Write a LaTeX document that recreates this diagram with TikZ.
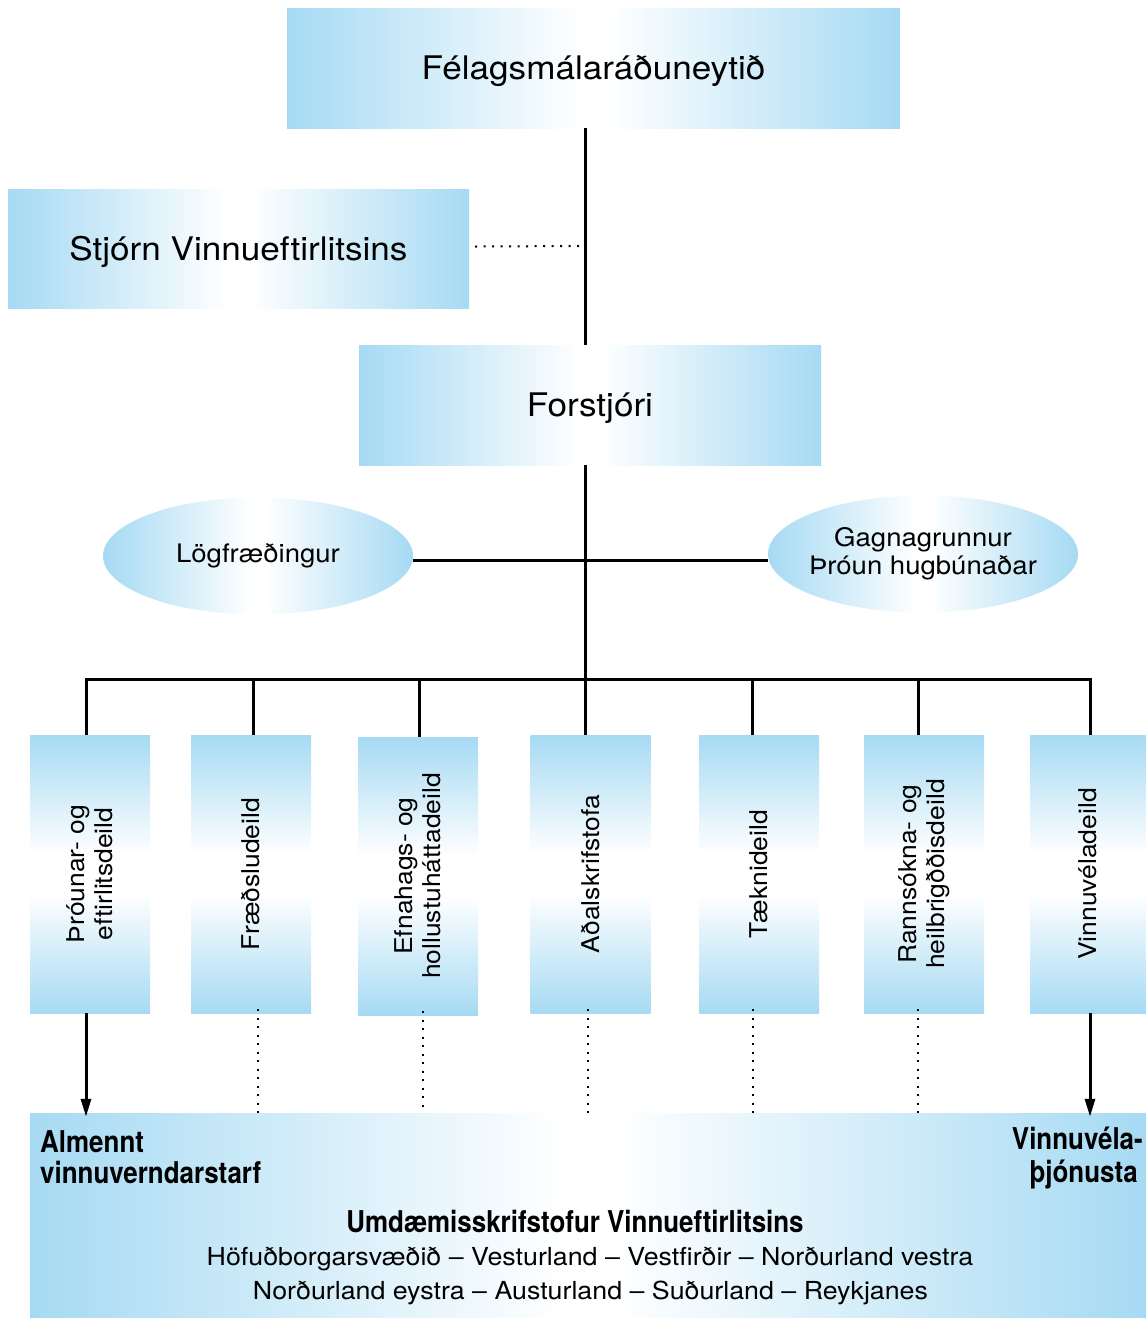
\documentclass[tikz,border=0pt]{standalone}
\usepackage{fontspec}
\setmainfont{TeX Gyre Heros}[FakeStretch=1.08]
\newfontfamily\condb[FakeStretch=0.865]{TeX Gyre Heros}
\usetikzlibrary{arrows.meta,shapes.geometric}
\definecolor{lb}{RGB}{166,218,243}
% middle 50bp of each shading is fitted to the shape
\pgfdeclarehorizontalshading{hsh}{100bp}{color(0bp)=(lb); color(25bp)=(lb); color(49bp)=(white); color(51bp)=(white); color(75bp)=(lb); color(100bp)=(lb)}
\pgfdeclareverticalshading{vsh}{100bp}{color(0bp)=(lb); color(25bp)=(lb); color(46.5bp)=(white); color(53.5bp)=(white); color(75bp)=(lb); color(100bp)=(lb)}
\tikzset{
  hbox/.style={rectangle, inner sep=0pt, shade, shading=hsh, text height=23.3pt, text depth=0pt, font=\fontsize{32.5}{38}\selectfont},
  vbox/.style={rectangle, inner sep=0pt, shade, shading=vsh, minimum width=120pt, minimum height=278pt},
  vtext/.style={rotate=90, align=center, font=\fontsize{24.5}{28}\selectfont},
  oval/.style={ellipse, inner sep=-14pt, shade, shading=hsh, minimum width=310pt, minimum height=117pt, align=center, font=\fontsize{25.5}{28}\selectfont},
  boldtxt/.style={inner sep=0pt, font=\condb\bfseries\fontsize{30}{34}\selectfont},
  regtxt/.style={inner sep=0pt, font=\fontsize{24.8}{28}\selectfont},
  conn/.style={line width=3pt},
  dotline/.style={line width=2pt, dash pattern=on 2pt off 6.5pt},
  arr/.style={line width=3pt, -{Triangle[length=18pt,width=10pt]}},
}
\begin{document}
\begin{tikzpicture}[x=1pt,y=-1pt]
\useasboundingbox (0,0) rectangle (1146,1318);
% top boxes
\node[hbox, minimum width=613pt, minimum height=120pt] (min) at (593.5,68) {Félagsmálaráðuneytið};
\node[hbox, minimum width=461pt, minimum height=119pt] (stj) at (238.5,248.5) {Stjórn Vinnueftirlitsins};
\node[hbox, minimum width=462pt, minimum height=120pt] (for) at (590,405) {Forstjóri};
% ellipses
\node[oval] (log) at (258,556) {Lögfræðingur};
\node[oval] (gag) at (923,554) {Gagnagrunnur\\Þróun hugbúnaðar};
% vertical boxes
\node[vbox] (b1) at (90,874) {};
\node[vtext] at (b1) {Þróunar- og\\eftirlitsdeild};
\node[vbox] (b2) at (251,874) {};
\node[vtext] at (b2) {Fræðsludeild};
\node[vbox] (b3) at (418,876) {};
\node[vtext] at (b3) {Efnahags- og\\hollustuháttadeild};
\node[vbox] (b4) at (590.5,874) {};
\node[vtext] at (b4) {Aðalskrifstofa};
\node[vbox] (b5) at (759,874) {};
\node[vtext] at (b5) {Tæknideild};
\node[vbox] (b6) at (924,874) {};
\node[vtext] at (b6) {Rannsókna- og\\heilbrigððisdeild};
\node[vbox, minimum width=116pt] (b7) at (1088,874) {};
\node[vtext] at (b7) {Vinnuvéladeild};
% bottom box
\node[rectangle, inner sep=0pt, shade, shading=hsh, minimum width=1116pt, minimum height=205pt] (bot) at (588,1215.5) {};
\node[boldtxt, anchor=base west] (alm1) at (40,1152) {Almennt};
\node[boldtxt, anchor=base west] (alm2) at (40,1183) {vinnuverndarstarf};
\node[boldtxt, anchor=base east] (vin1) at (1143,1149) {Vinnuvéla-};
\node[boldtxt, anchor=base east] (vin2) at (1138,1182) {þjónusta};
\node[boldtxt, anchor=base] (umd) at (575,1232) {Umdæmisskrifstofur Vinnueftirlitsins};
\node[regtxt, anchor=base] (r1) at (590,1265) {Höfuðborgarsvæðið – Vesturland – Vestfirðir – Norðurland vestra};
\node[regtxt, anchor=base] (r2) at (590.5,1299) {Norðurland eystra – Austurland – Suðurland – Reykjanes};
% connectors
\coordinate (j1) at (585,246);
\coordinate (j2) at (585,560);
\coordinate (bus) at (585,679);
\coordinate (t1) at (86,679);
\coordinate (t2) at (253,679);
\coordinate (t3) at (419,679);
\coordinate (t5) at (752,679);
\coordinate (t6) at (918,679);
\coordinate (t7) at (1090,679);
\draw[conn] (min.south -| j1) -- (for.north -| j1);
\draw[dotline] (stj.east) ++(6,-2) -- (j1);
\draw[conn] (for.south -| bus) -- (bus);
\draw[conn] (j2 -| log.east) -- (j2 -| gag.west);
\draw[conn] (t1 |- b1.north) -- (t1) -- (t7) -- (t7 |- b7.north);
\draw[conn] (t2) -- (t2 |- b2.north);
\draw[conn] (t3) -- (t3 |- b3.north);
\draw[conn] (bus) -- (bus |- b4.north);
\draw[conn] (t5) -- (t5 |- b5.north);
\draw[conn] (t6) -- (t6 |- b6.north);
\draw[arr] (t1 |- b1.south) -- ([yshift=-4pt]t1 |- bot.north);
\draw[arr] (t7 |- b7.south) -- ([yshift=-4pt]t7 |- bot.north);
\coordinate (d2) at (258,0);
\coordinate (d3) at (423,0);
\coordinate (d4) at (588,0);
\coordinate (d5) at (753,0);
\coordinate (d6) at (918,0);
\draw[dotline] ([yshift=4pt]d2 |- b2.south) -- (d2 |- bot.north);
\draw[dotline] ([yshift=4pt]d3 |- b3.south) -- (d3 |- bot.north);
\draw[dotline] ([yshift=4pt]d4 |- b4.south) -- (d4 |- bot.north);
\draw[dotline] ([yshift=4pt]d5 |- b5.south) -- (d5 |- bot.north);
\draw[dotline] ([yshift=4pt]d6 |- b6.south) -- (d6 |- bot.north);
\end{tikzpicture}
\end{document}
